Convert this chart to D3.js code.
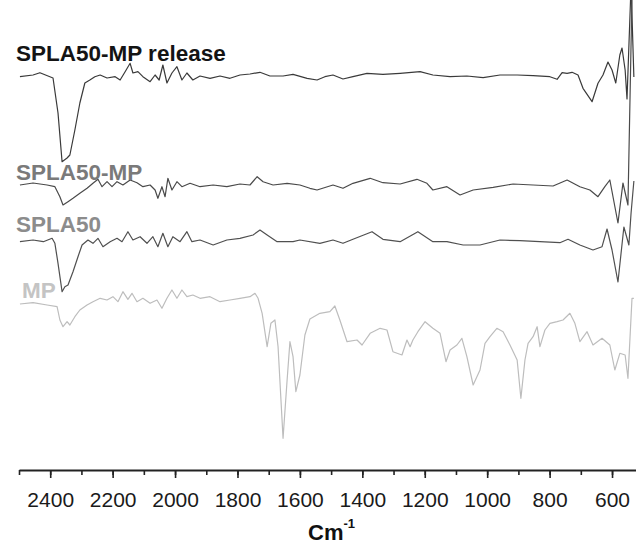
<!DOCTYPE html>
<html>
<head>
<meta charset="utf-8">
<script src="https://cdn.jsdelivr.net/npm/d3@7"></script>
<style>
  body { margin: 0; background: #fff; }
  text { font-family: "Liberation Sans", Arial, sans-serif; }
</style>
</head>
<body>
<div class="canvas"></div>
<script>
const dims = { width: 636, height: 545 };

// spectra: [wavenumber (cm-1), relative signal]
const releaseData = [
  [2497, -1.7], [2455, 0], [2433, 2.3], [2401, -1.7], [2391, -3], [2375, -38],
  [2362, -86.7], [2346, -83], [2337, -80], [2321, -55], [2305, -28], [2289, -8],
  [2273, -5], [2257, -1.7], [2240, 0], [2218, -3], [2192, -1.7], [2176, -5],
  [2160, 3.3], [2144, 11.7], [2135, 2], [2119, 3.3], [2103, -1.7], [2080, -6.7],
  [2064, 0], [2051, -5], [2039, 10], [2026, -8], [2010, 2], [1994, 8.3],
  [1978, -5], [1962, 2], [1943, -5], [1920, -1], [1888, -3.3], [1856, -1],
  [1824, -3.3], [1792, 0], [1760, 1], [1728, 2.7], [1696, -1], [1654, -1],
  [1622, 0.7], [1577, -3.3], [1545, -5], [1520, -1.7], [1494, 0], [1462, -4],
  [1430, -1.7], [1385, 1.7], [1334, 0.7], [1279, 1.7], [1215, 3.3], [1174, 0],
  [1119, -1.7], [1065, -1], [1013, -2.7], [959, 0], [904, 0], [853, -0.7],
  [799, -1.7], [776, -4.3], [760, 2.3], [744, 1.7], [728, 2.7], [709, 0],
  [693, -13.3], [664, -26.7], [645, -8.3], [629, 0], [613, 13], [600, 5],
  [588, -8], [575, 20], [568, 27], [558, 5], [552, -24], [539, 90], [530, -2]
];

const splaMpData = [
  [2497, 0], [2455, 2], [2410, 0], [2385, -1.7], [2369, -11.7], [2359, -20],
  [2343, -16.7], [2327, -13.3], [2305, -8.3], [2282, -3.3], [2263, 1.7], [2247, 5.7],
  [2234, -1.7], [2218, 3.3], [2202, -1.7], [2186, 3.3], [2167, 0], [2144, 5],
  [2122, 2.3], [2103, -1.7], [2080, 0], [2064, -5], [2055, -13.3], [2042, -1.7],
  [2032, -11.7], [2023, 6.7], [2010, -5], [1994, 3.3], [1978, -1.7], [1952, 1.7],
  [1920, -1.7], [1878, 0], [1834, -1.7], [1792, 1], [1760, 0], [1737, 8.3],
  [1718, 3.3], [1686, 0], [1641, 1.7], [1600, 0], [1568, -3.3], [1545, -5],
  [1494, 0], [1462, -3.3], [1430, 1.7], [1375, 6.7], [1334, 2.3], [1279, 1],
  [1225, 5.7], [1193, 1.7], [1174, -5], [1129, -1.7], [1087, -10], [1045, -5],
  [981, -2.3], [917, 1], [853, 0], [789, -1], [744, 5], [703, -1.7],
  [671, -5], [645, -11.7], [623, -1.7], [607, 5], [581, -38], [565, 2],
  [549, -20], [536, 190]
];

const splaData = [
  [2497, -0.7], [2455, 1], [2422, -0.7], [2394, 2.7], [2385, -2.3], [2375, -22.3],
  [2362, -50.7], [2353, -45.7], [2343, -44], [2327, -30.7], [2311, -15.7], [2298, -4],
  [2279, 1], [2263, -2.3], [2247, 2.7], [2231, -5.7], [2208, -0.7], [2186, 2.7],
  [2170, -0.7], [2151, 9.3], [2135, 1], [2112, 4.3], [2090, -2.3], [2071, 4.3],
  [2055, -5.7], [2039, 7.7], [2023, -5.7], [2007, 4.3], [1984, -0.7], [1962, 9.3],
  [1946, -0.7], [1920, 1], [1878, -4], [1834, 1], [1792, 2.7], [1750, 6],
  [1728, 11], [1705, 6], [1673, -0.7], [1622, -0.7], [1600, 1], [1536, -2.3],
  [1494, 1], [1462, -2.3], [1430, 1.7], [1369, 9.3], [1334, 1.7], [1279, -0.7],
  [1222, 9.3], [1174, -0.7], [1129, -0.7], [1077, -4], [1023, -4], [959, 1],
  [895, 0.3], [831, -0.7], [767, -1.7], [741, 1.7], [703, -4], [661, -9],
  [632, -5.7], [616, 12], [600, -9], [581, -41], [562, 14], [546, -4],
  [539, 28], [530, 60]
];

const mpData = [
  [2497, 0], [2455, 1.3], [2410, -1], [2378, -2.7], [2369, -16], [2359, -22.7],
  [2346, -17.7], [2337, -21], [2321, -12.7], [2305, -6], [2282, -1], [2263, 2.3],
  [2240, 5.7], [2218, 4], [2199, 7.3], [2183, 2.3], [2167, 12.3], [2151, 4.7],
  [2138, 10.7], [2122, 2.3], [2103, 5.7], [2080, 0.7], [2058, 4], [2042, -4.3],
  [2026, 5.7], [2010, 14], [1994, 5.7], [1978, 14], [1962, 7.3], [1943, 9],
  [1920, 5.7], [1888, 7.3], [1856, 2.3], [1824, 4], [1792, 5.7], [1760, 7.3],
  [1744, 10.7], [1734, 5.7], [1721, -9.3], [1705, -42.7], [1693, -19.3], [1680, -16],
  [1670, -42.7], [1654, -134.3], [1641, -76], [1632, -37.7], [1622, -52.7], [1613, -87.7],
  [1600, -71], [1584, -31], [1568, -15], [1536, -9.3], [1504, -7.7], [1488, -2],
  [1472, -16], [1449, -37.7], [1417, -36], [1401, -41], [1375, -29.3], [1343, -24.3],
  [1321, -26], [1302, -47.7], [1273, -51], [1257, -36], [1247, -42.7], [1238, -36],
  [1222, -27.7], [1199, -17.7], [1174, -24.3], [1151, -29.3], [1132, -57.7], [1119, -46],
  [1097, -41], [1081, -34.3], [1065, -52.7], [1045, -81], [1023, -66], [1007, -39.3],
  [991, -32.7], [969, -24.3], [949, -27.7], [927, -41], [904, -56], [892, -94.3],
  [879, -56], [869, -39.3], [853, -32.7], [840, -22.7], [831, -42.7], [815, -26],
  [799, -19.3], [776, -17.7], [757, -16], [735, -9.3], [719, -19.3], [703, -37.7],
  [680, -27.7], [661, -41], [632, -34.3], [607, -41], [591, -66], [575, -49.3],
  [558, -51], [549, -74.3], [536, 5.7], [530, 5.7]
];

const seriesNames = ["SPLA50-MP release", "SPLA50-MP", "SPLA50", "MP"];
const offsets = [395, 285, 229, 166]; // vertical stacking of the spectra
const xTicks = [2400, 2200, 2000, 1800, 1600, 1400, 1200, 1000, 800, 600];

const lineColors = ["#3a3a3a", "#4a4a4a", "#505050", "#bdbdbd"];
const labelColors = ["#141414", "#7a7a7a", "#8c8c8c", "#c4c4c4"];
const labelPos = [[16, 61], [16, 180], [16, 232], [22, 298]];

const svg = d3
  .select(".canvas")
  .append("svg")
  .attr("width", dims.width)
  .attr("height", dims.height);

const x = d3.scaleLinear().domain([2500, 520]).range([19, 637]);
const y = d3.scaleLinear().domain([0, 470]).range([470, 0]);

const allSeries = [releaseData, splaMpData, splaData, mpData];

const line = d3
  .line()
  .x((d) => x(d[0]))
  .y((d) => y(d[1]));

// spectra
svg
  .append("g")
  .selectAll("path")
  .data(allSeries)
  .join("path")
  .attr("fill", "none")
  .attr("stroke", (d, i) => lineColors[i])
  .attr("stroke-width", 1.2)
  .attr("stroke-linejoin", "round")
  .attr("d", (d, i) => line(d.map((p) => [p[0], p[1] + offsets[i]])));

// labels
svg
  .append("g")
  .selectAll("text")
  .data(seriesNames)
  .join("text")
  .attr("x", (d, i) => labelPos[i][0])
  .attr("y", (d, i) => labelPos[i][1])
  .attr("fill", (d, i) => labelColors[i])
  .style("font-size", "22.5px")
  .style("font-weight", "bold")
  .text((d) => d);

// x axis: minor ticks every 100, labels every 200
const axisG = svg.append("g").attr("transform", `translate(0, ${y(0)})`);

axisG
  .call(
    d3.axisBottom(x)
      .tickValues(d3.range(2500, 519, -100))
      .tickSize(5)
      .tickSizeOuter(0)
      .tickFormat("")
  )
  .call((g) => g.select(".domain").attr("stroke", "#222").attr("stroke-width", 2));

axisG.selectAll(".tick line").attr("stroke", "#222").attr("stroke-width", 1.6);

const major = svg.append("g").attr("transform", `translate(0, ${y(0)})`);
major
  .call(d3.axisBottom(x).tickValues(xTicks).tickSize(8).tickPadding(14).tickFormat(d3.format("d")))
  .call((g) => g.select(".domain").remove());

major.selectAll(".tick line").attr("stroke", "#222").attr("stroke-width", 1.6);
major
  .selectAll(".tick text")
  .attr("fill", "#1a1a1a")
  .style("font-size", "21px")
  .style("font-family", "'Liberation Sans', Arial, sans-serif");

// axis title
const title = svg
  .append("text")
  .attr("x", 308)
  .attr("y", 540)
  .attr("fill", "#111")
  .style("font-size", "22px")
  .style("font-weight", "bold");
title.append("tspan").text("Cm");
title
  .append("tspan")
  .attr("dy", -12)
  .style("font-size", "13px")
  .text("-1");
</script>
</body>
</html>
